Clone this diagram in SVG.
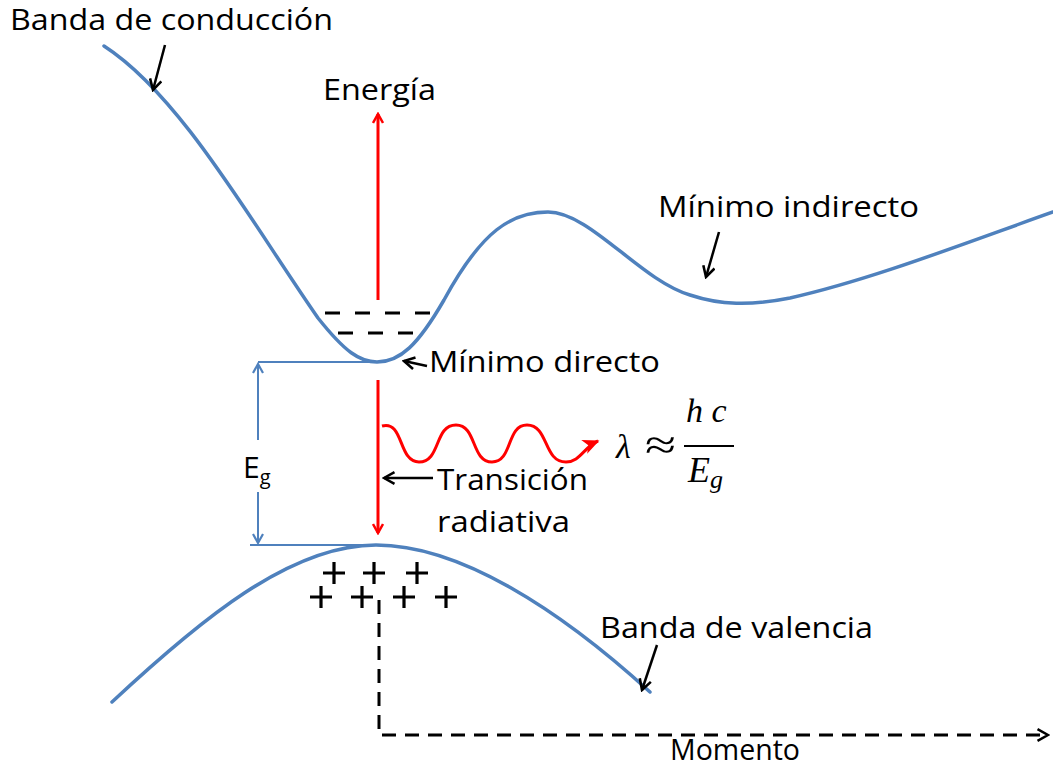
<svg xmlns="http://www.w3.org/2000/svg" width="1053" height="769" viewBox="0 0 1053 769">
<defs>
<style>
.lbl{font-family:"Open Sans",Lato,"Liberation Sans",sans-serif;font-size:30px;fill:#000}
.math{font-family:"Liberation Serif","DejaVu Serif",serif;font-style:italic;fill:#000}
.band{fill:none;stroke:#4F81BD;stroke-width:3.5;stroke-linecap:round}
.thin{fill:none;stroke:#4F81BD;stroke-width:2}
.red{fill:none;stroke:#FF0000;stroke-width:3}
.ptr{fill:none;stroke:#000;stroke-width:2.5}
.plus{stroke:#000;stroke-width:3.2;fill:none}
.dash{fill:none;stroke:#000;stroke-width:3;stroke-dasharray:14 9}
</style>
<marker id="vRed" viewBox="0 0 12 12" refX="10" refY="6" markerWidth="12" markerHeight="12" markerUnits="userSpaceOnUse" orient="auto">
<path d="M1,1 L10,6 L1,11" fill="none" stroke="#FF0000" stroke-width="2.5"/>
</marker>
<marker id="vBlk" viewBox="0 0 12 12" refX="10" refY="6" markerWidth="14" markerHeight="14" markerUnits="userSpaceOnUse" orient="auto">
<path d="M1,1 L10,6 L1,11" fill="none" stroke="#000" stroke-width="2.2"/>
</marker>
<marker id="vBlue" viewBox="0 0 12 12" refX="10" refY="6" markerWidth="12" markerHeight="12" markerUnits="userSpaceOnUse" orient="auto-start-reverse">
<path d="M1,1 L10,6 L1,11" fill="none" stroke="#4F81BD" stroke-width="2.2"/>
</marker>
<marker id="fRed" viewBox="0 0 12 12" refX="10" refY="6" markerWidth="18" markerHeight="18" markerUnits="userSpaceOnUse" orient="auto">
<path d="M0,1 L11,6 L0,11 L3,6 Z" fill="#FF0000"/>
</marker>
</defs>

<g id="conduction-band">
<path class="band" d="M104,46 C180,95 250,220 318,318 C345,352 360,362 377,362 C400,362 418,345 444,300 C482,230 512,212 548,212 C590,212 640,280 690,295 C720,305 750,306 790,298 C870,280 960,245 1053,212"/>
</g>
<g id="valence-band">
<path class="band" d="M112,702 C200,620 290,545 376,545 C460,545 560,610 650,692"/>
</g>

<g id="gap">
<line class="thin" x1="258" y1="362" x2="377" y2="362"/>
<line class="thin" x1="250" y1="545" x2="376" y2="545"/>
<line class="thin" x1="258" y1="364" x2="258" y2="543" marker-start="url(#vBlue)" marker-end="url(#vBlue)"/>
<rect x="236" y="440" width="44" height="52" fill="#fff"/>
<text class="lbl" x="243" y="478" style="font-size:30px">E<tspan font-size="20" dy="6">g</tspan></text>
</g>

<g id="levels">
<line x1="325" y1="313" x2="432" y2="313" stroke="#000" stroke-width="3" stroke-dasharray="15 15"/>
<line x1="338" y1="333" x2="414" y2="333" stroke="#000" stroke-width="3" stroke-dasharray="15 15"/>
</g>

<g id="holes">
<path class="plus" d="M323,573 h22 M334,562 v22 M363,573 h22 M374,562 v22 M406,573 h22 M417,562 v22 M310,597 h22 M321,586 v22 M351,597 h22 M362,586 v22 M393,597 h22 M404,586 v22 M435,597 h22 M446,586 v22"/>
</g>

<g id="connectors">
<line class="red" x1="378" y1="300" x2="378" y2="114" marker-end="url(#vRed)"/>
<line class="red" x1="378" y1="380" x2="378" y2="533" marker-end="url(#vRed)"/>
<path class="red" d="M382,426 C404,420 398,462 419,462 C441,462 434,425 456,425 C477,425 471,462 492,462 C513,462 506,425 527,425 C549,425 543,462 566,462 C580,462 584,447 598,441" marker-end="url(#fRed)"/>
<line class="ptr" x1="165" y1="45" x2="153" y2="90" marker-end="url(#vBlk)"/>
<line class="ptr" x1="719" y1="232" x2="706" y2="277" marker-end="url(#vBlk)"/>
<line class="ptr" x1="427" y1="366" x2="404" y2="361" marker-end="url(#vBlk)"/>
<line class="ptr" x1="433" y1="478" x2="384" y2="478" marker-end="url(#vBlk)"/>
<line class="ptr" x1="657" y1="645" x2="642" y2="690" marker-end="url(#vBlk)"/>
<path class="dash" d="M379,600 V735 H1048" marker-end="url(#vBlk)"/>
</g>

<g id="labels">
<text class="lbl" x="10" y="30" textLength="323" lengthAdjust="spacingAndGlyphs">Banda de conducción</text>
<text class="lbl" x="323" y="100" textLength="113" lengthAdjust="spacingAndGlyphs">Energía</text>
<text class="lbl" x="658" y="217" textLength="261" lengthAdjust="spacingAndGlyphs">Mínimo indirecto</text>
<text class="lbl" x="429" y="372" textLength="231" lengthAdjust="spacingAndGlyphs">Mínimo directo</text>
<text class="lbl" x="437" y="490" textLength="151" lengthAdjust="spacingAndGlyphs">Transición</text>
<text class="lbl" x="437" y="532" textLength="133" lengthAdjust="spacingAndGlyphs">radiativa</text>
<text class="lbl" x="600" y="638" textLength="273" lengthAdjust="spacingAndGlyphs">Banda de valencia</text>
<text class="lbl" x="670" y="760" textLength="130" lengthAdjust="spacingAndGlyphs">Momento</text>
</g>

<g id="formula">
<text class="math" x="616" y="458" font-size="34">λ</text>
<text x="645" y="459" font-size="42" textLength="31" lengthAdjust="spacingAndGlyphs" style="font-family:'Liberation Serif','DejaVu Serif',serif">≈</text>
<text class="math" x="686" y="422" font-size="34">h c</text>
<line x1="684" y1="446" x2="734" y2="446" stroke="#000" stroke-width="2"/>
<text class="math" x="688" y="482" font-size="36">E<tspan font-size="26" dy="6">g</tspan></text>
</g>
</svg>
